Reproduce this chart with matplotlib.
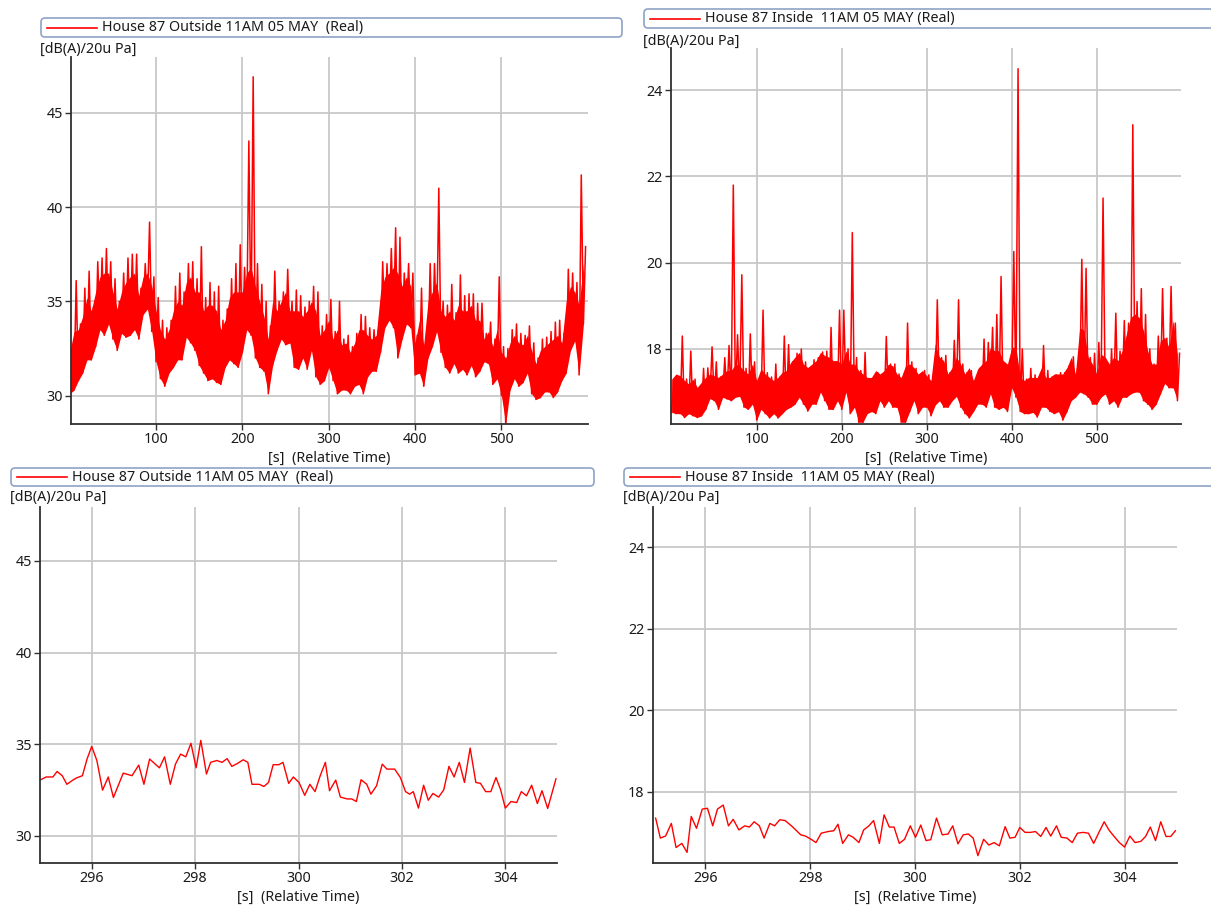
#!/usr/bin/env python3

import numpy as np
from matplotlib import pyplot as plt
from matplotlib.lines import Line2D
from matplotlib.patches import FancyBboxPatch
from matplotlib.transforms import IdentityTransform

W, H = 1211, 906

OUTSIDE_LABEL = "House 87 Outside 11AM 05 MAY  (Real)"
INSIDE_LABEL = "House 87 Inside  11AM 05 MAY (Real)"
Y_UNIT = "[dB(A)/20u Pa]"
X_UNIT = "[s]  (Relative Time)"

# 10 minute records, condensed into 5 s bins:
# lowest level, top of the dense part, and highest peak in each bin
BIN_SECONDS = 5.0
outside_lo = [
    30.1, 30.3, 30.8, 31.2, 31.9, 31.9, 32.6, 33.5, 33.2, 33.8,
    33.0, 32.4, 33.3, 33.1, 33.2, 33.5, 33.0, 34.3, 34.6, 33.4,
    31.8, 30.9, 30.5, 31.2, 31.5, 31.9, 31.9, 33.1, 32.8, 32.4,
    31.6, 31.2, 30.8, 30.9, 30.7, 30.6, 31.5, 31.9, 31.7, 31.5,
    32.3, 33.5, 33.2, 32.0, 31.5, 31.3, 30.1, 31.6, 32.4, 33.0,
    32.7, 32.8, 31.5, 31.4, 32.0, 31.4, 32.4, 31.0, 30.6, 30.8,
    31.5, 30.8, 30.1, 30.3, 30.3, 30.1, 30.5, 30.6, 30.1, 31.0,
    31.3, 31.3, 32.3, 33.6, 34.0, 33.6, 32.0, 33.0, 33.8, 33.6,
    31.1, 31.2, 30.5, 32.0, 32.6, 33.4, 32.3, 31.5, 31.2, 31.7,
    31.2, 31.4, 31.1, 31.6, 31.0, 31.3, 31.8, 31.7, 30.6, 30.9,
    30.0, 28.5, 30.3, 30.9, 30.5, 30.7, 31.2, 30.1, 29.8, 29.9,
    30.2, 30.2, 29.9, 30.2, 30.8, 31.2, 32.4, 32.9, 31.1, 33.8,
]
outside_core = [
    32.3, 33.4, 33.5, 34.2, 35.2, 34.5, 35.5, 36.3, 36.5, 36.5,
    35.5, 34.6, 35.5, 36.0, 36.3, 36.5, 35.3, 36.3, 36.5, 35.8,
    34.5, 33.5, 33.0, 33.5, 34.5, 35.0, 34.8, 36.0, 36.3, 35.5,
    35.5, 34.5, 34.8, 34.8, 34.5, 33.5, 34.0, 35.2, 35.5, 35.5,
    35.5, 36.5, 36.8, 35.8, 35.0, 34.2, 33.0, 35.0, 34.5, 35.0,
    35.5, 34.5, 34.5, 34.5, 34.2, 34.5, 35.0, 34.5, 33.2, 33.5,
    34.0, 33.0, 33.5, 32.7, 32.8, 32.3, 32.8, 33.5, 33.5, 33.2,
    33.0, 33.2, 35.5, 36.3, 36.5, 36.8, 36.5, 35.8, 36.3, 35.8,
    32.8, 34.0, 32.7, 35.0, 35.5, 36.0, 34.5, 34.2, 34.5, 34.0,
    34.8, 34.5, 34.5, 34.8, 34.0, 34.0, 33.0, 33.4, 32.6, 33.5,
    32.3, 32.0, 32.8, 33.2, 32.8, 32.7, 33.2, 32.4, 31.7, 32.4,
    32.6, 32.8, 33.0, 33.2, 32.8, 35.0, 35.8, 35.5, 34.8, 37.0,
]
outside_hi = [
    32.4, 36.1, 33.8, 35.7, 36.6, 34.7, 37.1, 37.3, 37.8, 37.1,
    36.2, 35.0, 36.5, 37.3, 37.5, 37.5, 35.7, 37.0, 39.2, 36.3,
    35.2, 34.0, 33.6, 34.0, 35.8, 36.5, 35.5, 37.0, 37.1, 36.2,
    37.9, 35.2, 36.0, 35.5, 35.8, 34.0, 34.6, 36.2, 37.0, 38.0,
    36.8, 43.5, 46.9, 37.0, 35.9, 35.0, 33.7, 36.6, 35.0, 35.5,
    36.7, 35.0, 35.6, 35.3, 34.7, 35.0, 35.8, 35.5, 33.7, 34.3,
    35.1, 33.4, 35.0, 33.0, 33.2, 32.6, 33.3, 34.3, 34.2, 33.6,
    33.5, 33.5, 37.1, 37.0, 37.8, 38.9, 38.4, 36.5, 37.0, 36.5,
    33.2, 35.7, 33.0, 37.0, 37.0, 41.0, 35.0, 34.8, 35.9, 34.4,
    36.4, 35.3, 35.4, 35.4, 34.9, 34.9, 33.3, 33.9, 33.0, 36.3,
    32.6, 32.5, 33.5, 33.8, 33.3, 33.2, 33.7, 32.8, 32.0, 33.0,
    33.1, 33.4, 33.9, 34.0, 33.3, 36.7, 36.5, 36.0, 41.7, 37.9,
]
inside_lo = [
    16.53, 16.50, 16.50, 16.41, 16.50, 16.45, 16.41, 16.45, 16.60, 16.85,
    16.80, 16.60, 16.88, 16.84, 16.80, 16.88, 16.90, 16.65, 16.60, 16.72,
    16.35, 16.60, 16.50, 16.40, 16.50, 16.40, 16.50, 16.60, 16.65, 16.72,
    16.88, 16.72, 16.56, 16.72, 16.72, 17.00, 16.80, 16.60, 16.60, 16.80,
    16.60, 17.00, 16.50, 16.65, 16.30, 16.30, 16.50, 16.55, 16.50, 16.80,
    16.65, 16.80, 16.65, 16.65, 16.30, 16.30, 16.55, 16.80, 16.50, 16.65,
    16.65, 16.45, 16.70, 16.80, 16.65, 16.65, 16.80, 16.90, 16.65, 16.50,
    16.40, 16.55, 16.72, 16.72, 16.65, 16.96, 16.65, 16.60, 16.65, 16.55,
    17.10, 16.88, 16.55, 16.50, 16.50, 16.53, 16.42, 16.65, 16.65, 16.55,
    16.50, 16.55, 16.35, 16.55, 16.80, 16.88, 17.00, 16.96, 16.88, 16.72,
    16.72, 16.88, 16.96, 16.72, 16.80, 16.65, 16.88, 16.88, 16.96, 17.00,
    17.00, 16.80, 16.72, 16.60, 16.72, 16.96, 17.20, 17.10, 17.10, 16.80,
]
inside_core = [
    17.30, 17.42, 17.38, 17.27, 17.19, 17.30, 17.11, 17.23, 17.34, 17.42,
    17.38, 17.34, 17.42, 17.50, 17.50, 17.65, 17.61, 17.50, 17.42, 17.65,
    17.27, 17.54, 17.42, 17.34, 17.27, 17.34, 17.46, 17.50, 17.69, 17.81,
    17.92, 17.65, 17.57, 17.65, 17.73, 17.92, 17.85, 17.81, 17.73, 17.73,
    17.65, 17.96, 17.65, 17.65, 17.50, 17.42, 17.34, 17.34, 17.50, 17.42,
    17.50, 17.65, 17.61, 17.42, 17.34, 17.61, 17.65, 17.57, 17.42, 17.50,
    17.38, 17.27, 18.12, 17.81, 17.73, 17.42, 17.57, 17.81, 17.65, 17.42,
    17.57, 17.27, 17.54, 17.65, 17.73, 18.04, 17.96, 17.96, 17.73, 17.65,
    18.04, 18.04, 17.34, 17.27, 17.34, 17.34, 17.34, 17.57, 17.34, 17.34,
    17.42, 17.42, 17.42, 17.57, 17.81, 17.42, 18.50, 18.43, 17.81, 17.65,
    17.42, 17.88, 17.81, 17.65, 17.81, 17.73, 17.96, 18.35, 18.73, 18.81,
    18.73, 18.43, 17.96, 17.65, 17.65, 18.19, 18.27, 18.04, 18.66, 17.88,
]
inside_hi = [
    17.30, 17.35, 18.30, 17.30, 17.95, 17.30, 17.10, 17.55, 17.56, 18.05,
    17.70, 17.35, 17.80, 18.08, 21.80, 18.33, 19.72, 17.55, 18.35, 17.70,
    17.30, 18.90, 17.45, 17.35, 17.65, 17.35, 18.30, 18.10, 17.70, 17.90,
    18.00, 17.70, 17.55, 17.75, 17.80, 17.93, 17.95, 18.50, 17.70, 18.90,
    18.90, 18.00, 20.70, 17.80, 17.50, 17.92, 17.30, 17.30, 17.45, 17.40,
    18.29, 17.65, 17.65, 17.42, 17.35, 18.60, 17.70, 17.55, 17.40, 17.50,
    17.40, 17.30, 19.14, 17.80, 17.85, 17.45, 18.20, 19.14, 17.65, 17.45,
    17.50, 17.25, 17.55, 18.23, 18.15, 18.50, 18.80, 19.68, 17.60, 17.60,
    20.26, 24.50, 18.00, 17.30, 17.55, 17.40, 17.35, 18.08, 17.50, 17.35,
    17.40, 17.45, 17.45, 17.60, 17.82, 17.55, 20.08, 19.87, 17.80, 17.90,
    18.15, 21.50, 17.60, 18.00, 18.83, 17.95, 18.66, 18.60, 23.20, 19.10,
    19.40, 18.80, 18.00, 17.65, 18.30, 19.40, 18.25, 19.45, 18.60, 17.90,
]

# 10 s detail around the 300 s mark
outside_zoom_t = [
    295.00, 295.12, 295.25, 295.33, 295.43, 295.52, 295.62, 295.70, 295.82, 295.91,
    296.00, 296.10, 296.21, 296.32, 296.42, 296.61, 296.78, 296.91, 297.01, 297.12,
    297.31, 297.41, 297.52, 297.62, 297.72, 297.82, 297.92, 298.02, 298.11, 298.22,
    298.30, 298.42, 298.52, 298.62, 298.71, 298.82, 298.93, 299.02, 299.10, 299.24,
    299.33, 299.42, 299.51, 299.62, 299.70, 299.81, 299.90, 300.01, 300.12, 300.22,
    300.32, 300.42, 300.52, 300.60, 300.72, 300.81, 300.94, 301.03, 301.12, 301.21,
    301.32, 301.40, 301.51, 301.62, 301.71, 301.86, 301.97, 302.07, 302.15, 302.22,
    302.32, 302.42, 302.51, 302.60, 302.71, 302.81, 302.91, 303.01, 303.11, 303.21,
    303.32, 303.43, 303.52, 303.62, 303.72, 303.82, 303.91, 304.00, 304.11, 304.22,
    304.31, 304.41, 304.51, 304.62, 304.71, 304.82, 304.98,
]
outside_zoom_db = [
    33.03, 33.20, 33.20, 33.50, 33.27, 32.80, 33.00, 33.14, 33.27, 34.18,
    34.87, 34.10, 32.48, 33.20, 32.08, 33.41, 33.27, 33.85, 32.80, 34.18,
    33.70, 34.30, 32.80, 33.90, 34.45, 34.30, 35.04, 33.70, 35.20, 33.36,
    34.00, 34.10, 34.00, 34.20, 33.78, 33.94, 34.14, 34.00, 32.80, 32.80,
    32.68, 32.90, 33.87, 33.87, 34.00, 32.85, 33.20, 32.90, 32.20, 32.80,
    32.40, 33.27, 34.00, 32.45, 33.03, 32.10, 32.00, 32.00, 31.86, 33.05,
    32.80, 32.26, 32.72, 33.90, 33.63, 33.63, 33.17, 32.40, 32.26, 32.40,
    31.50, 32.75, 31.93, 32.30, 32.10, 32.50, 33.78, 33.20, 34.00, 32.90,
    34.78, 32.90, 32.85, 32.40, 32.40, 33.17, 32.50, 31.50, 31.86, 31.80,
    32.40, 32.17, 32.75, 31.75, 32.45, 31.48, 33.10,
]
inside_zoom_t = [
    295.05, 295.14, 295.24, 295.35, 295.44, 295.55, 295.65, 295.73, 295.83, 295.94,
    296.04, 296.14, 296.23, 296.34, 296.44, 296.53, 296.64, 296.75, 296.84, 296.93,
    297.03, 297.12, 297.23, 297.32, 297.42, 297.52, 297.66, 297.82, 297.91, 298.03,
    298.11, 298.21, 298.34, 298.45, 298.53, 298.62, 298.73, 298.82, 298.93, 299.02,
    299.12, 299.21, 299.32, 299.41, 299.51, 299.60, 299.70, 299.80, 299.91, 300.01,
    300.11, 300.21, 300.30, 300.41, 300.52, 300.63, 300.72, 300.82, 300.92, 301.02,
    301.11, 301.20, 301.31, 301.41, 301.51, 301.61, 301.72, 301.81, 301.91, 302.00,
    302.10, 302.20, 302.30, 302.40, 302.50, 302.59, 302.70, 302.79, 302.90, 303.00,
    303.10, 303.21, 303.31, 303.41, 303.51, 303.61, 303.70, 303.80, 303.90, 304.00,
    304.10, 304.20, 304.31, 304.40, 304.49, 304.59, 304.69, 304.79, 304.88, 304.97,
]
inside_zoom_db = [
    17.36, 16.87, 16.92, 17.23, 16.64, 16.74, 16.52, 17.40, 17.11, 17.58,
    17.60, 17.17, 17.58, 17.68, 17.17, 17.33, 17.07, 17.17, 17.14, 17.27,
    17.17, 16.87, 17.23, 17.17, 17.32, 17.30, 17.15, 16.95, 16.92, 16.83,
    16.76, 16.99, 17.03, 17.05, 17.21, 16.74, 16.95, 16.89, 16.76, 17.07,
    17.17, 17.30, 16.74, 17.44, 17.14, 17.14, 16.74, 16.84, 17.17, 16.89,
    17.19, 16.81, 16.83, 17.36, 16.95, 16.97, 17.17, 16.73, 16.95, 16.97,
    16.87, 16.44, 16.84, 16.70, 16.76, 16.68, 17.15, 16.87, 16.89, 17.13,
    17.01, 17.01, 17.03, 16.91, 17.13, 16.92, 17.17, 16.89, 16.87, 16.76,
    16.99, 17.01, 16.99, 16.74, 17.01, 17.27, 17.07, 16.91, 16.76, 16.65,
    16.92, 16.76, 16.79, 16.91, 17.14, 16.81, 17.27, 16.91, 16.91, 17.05,
]

outside_yticks = [30, 35, 40, 45]
inside_yticks = [18, 20, 22, 24]
full_xticks = [100, 200, 300, 400, 500]
zoom_xticks = [296, 298, 300, 302, 304]

RED = "#ff0000"
INK = "#1a1a1a"
GRID = "#c8c8c8"
BOX_EDGE = "#8fa3c6"
FONT_SIZE = 10.3


def main():
    plt.rcParams["font.family"] = ["Noto Sans", "DejaVu Sans"]
    plt.rcParams["font.size"] = FONT_SIZE
    fig = plt.figure(figsize=(W / 100, H / 100), dpi=100)

    # panel frames in pixels: left, top, right, bottom
    ax = panel(fig, (71, 57, 588, 424), OUTSIDE_LABEL, (41, 18, 622, 37), 49)
    draw_binned(ax, outside_lo, outside_core, outside_hi)
    style(ax, (1.5, 600.3), (28.5, 47.95), full_xticks, outside_yticks)

    ax = panel(fig, (671, 48, 1181, 424), INSIDE_LABEL, (644, 9, 1216, 28), 41)
    draw_binned(ax, inside_lo, inside_core, inside_hi)
    style(ax, (-0.8, 599.2), (16.26, 24.98), full_xticks, inside_yticks)

    ax = panel(fig, (40, 507, 557, 863), OUTSIDE_LABEL, (11, 468, 594, 486), 497)
    ax.plot(outside_zoom_t, outside_zoom_db, color=RED, linewidth=1.0)
    style(ax, (295, 305), (28.5, 47.95), zoom_xticks, outside_yticks)

    ax = panel(fig, (653, 507, 1177, 863), INSIDE_LABEL, (624, 468, 1216, 486), 497)
    ax.plot(inside_zoom_t, inside_zoom_db, color=RED, linewidth=1.0)
    style(ax, (295, 305), (16.26, 24.98), zoom_xticks, inside_yticks)

    fig.savefig("out.png", dpi=100)


def draw_binned(ax, lo, core, hi):
    n = len(lo)
    t_bin = np.arange(n) * BIN_SECONDS

    # dense body of the trace
    ax.fill_between(t_bin, lo, core, color=RED, linewidth=0)

    # peaks: zigzag between the low and the high of each bin
    t = np.empty(2 * n)
    db = np.empty(2 * n)
    t[0::2] = t_bin
    t[1::2] = t_bin + BIN_SECONDS / 2
    db[0::2] = lo
    db[1::2] = hi
    ax.plot(t, db, color=RED, linewidth=1.1)


def fx(x):
    return x / W


def fy(y):
    return 1 - y / H


def panel(fig, frame, label, box, unit_y):
    left, top, right, bottom = frame
    ax = fig.add_axes([fx(left), fy(bottom), fx(right - left), (bottom - top) / H])

    # legend strip above the plot
    bx0, by0, bx1, by1 = box
    fig.add_artist(FancyBboxPatch(
        (bx0, H - by1), bx1 - bx0, by1 - by0,
        boxstyle="round,pad=0,rounding_size=4",
        transform=IdentityTransform(), facecolor="white",
        edgecolor=BOX_EDGE, linewidth=1.2,
    ))
    mid = (by0 + by1) / 2
    fig.add_artist(Line2D([fx(bx0 + 6), fx(bx0 + 56)], [fy(mid), fy(mid)],
                          transform=fig.transFigure, color=RED, linewidth=1.2))
    fig.text(fx(bx0 + 61), fy(mid), label, ha="left", va="center", color=INK)

    fig.text(fx(bx0 - 1), fy(unit_y), Y_UNIT, ha="left", va="center", color=INK)
    fig.text(fx((left + right) / 2), fy(bottom + 34), X_UNIT,
             ha="center", va="center", color=INK)
    return ax


def style(ax, xlim, ylim, xticks, yticks):
    ax.set_xlim(*xlim)
    ax.set_ylim(*ylim)
    ax.set_xticks(xticks)
    ax.set_yticks(yticks)
    ax.grid(color=GRID, linewidth=1.3)
    ax.set_axisbelow(True)

    for side in ("top", "right"):
        ax.spines[side].set_visible(False)
    for side in ("left", "bottom"):
        ax.spines[side].set_color("#303030")
        ax.spines[side].set_linewidth(1.3)
    ax.tick_params(direction="out", length=4, width=1, color="#303030",
                   labelcolor=INK, labelsize=FONT_SIZE, pad=2)


if __name__ == "__main__":
    main()
